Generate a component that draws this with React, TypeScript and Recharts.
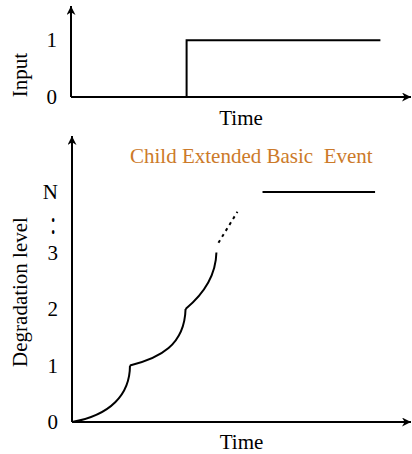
import { LineChart, Line, XAxis, YAxis } from 'recharts'

const TITLE_COLOR = '#cc7a29'

// top panel: step input
const inputSteps = [
  { t: 0, level: 0 },
  { t: 34, level: 0 },
  { t: 34, level: 1 },
  { t: 91, level: 1 },
]
const inputTicks = [0, 1]

// bottom panel: degradation curve, each piece is start, two control points, end
const degradeSeg1 = [
  { t: 0, level: 0 },
  { t: 11.2, level: 0.12 },
  { t: 17.1, level: 0.48 },
  { t: 17.1, level: 1.0 },
]
const degradeSeg2 = [
  { t: 17.1, level: 1.0 },
  { t: 25.9, level: 1.13 },
  { t: 33.2, level: 1.36 },
  { t: 33.5, level: 2.0 },
]
const degradeSeg3 = [
  { t: 33.5, level: 2.0 },
  { t: 37.1, level: 2.18 },
  { t: 42.4, level: 2.51 },
  { t: 42.6, level: 3.0 },
]
const degradeDotted = [
  { t: 43.2, level: 3.17 },
  { t: 48.8, level: 3.72 },
]
const levelN = [
  { t: 56.2, level: 4.07 },
  { t: 89.4, level: 4.07 },
]
const degradeTicks = [0, 1, 2, 3, 3.5, 4.07]
const degradeTickLabels = ['0', '1', '2', '3', ':', 'N']

const titleText = 'Child Extended Basic  Event'

const axisStyle = { stroke: '#000', strokeWidth: 2 }
const textStyle = { fontFamily: '"Times New Roman"', fontSize: 21 }

// cubic bezier through start/control/control/end groups
function bezierCurve(context: any) {
  let pts: number[][] = []
  return {
    areaStart() {},
    areaEnd() {},
    lineStart() { pts = [] },
    lineEnd() {
      if (!pts.length) return
      context.moveTo(pts[0][0], pts[0][1])
      for (let i = 1; i + 2 < pts.length; i += 3) {
        context.bezierCurveTo(pts[i][0], pts[i][1], pts[i + 1][0], pts[i + 1][1], pts[i + 2][0], pts[i + 2][1])
      }
    },
    point(x: number, y: number) { pts.push([x, y]) },
  }
}

function LevelTick({ x, y, payload, labels, ticks }: any) {
  const idx = ticks ? ticks.indexOf(payload.value) : -1
  const text = labels && idx >= 0 ? labels[idx] : String(payload.value)
  if (text === ':') {
    return (
      <text transform={`translate(${x - 8},${y}) scale(1,1.6)`} textAnchor="end" dy="0.3em" style={textStyle} fill="#000">
        {text}
      </text>
    )
  }
  return (
    <text x={x - 6} y={y} textAnchor="end" dy="0.35em" style={textStyle} fill="#000">
      {text}
    </text>
  )
}

function YTitle({ viewBox, value, fromBottom }: any) {
  const cx = 20
  const cy = viewBox.y + viewBox.height - fromBottom
  return (
    <text x={cx} y={cy} transform={`rotate(-90, ${cx}, ${cy})`} textAnchor="middle" dy="0.35em" style={textStyle} fill="#000">
      {value}
    </text>
  )
}

function XTitle({ viewBox, value, below }: any) {
  return (
    <text x={viewBox.x + viewBox.width / 2} y={viewBox.y + below} textAnchor="middle" dy="0.35em" style={textStyle} fill="#000">
      {value}
    </text>
  )
}

export default function App() {
  return (
    <div style={{ position: 'absolute', left: 0, top: 0, width: 412, height: 454, background: '#fff', fontFamily: '"Times New Roman"' }}>
      <svg width={0} height={0} style={{ position: 'absolute' }}>
        <defs>
          <marker id="arrowHead" viewBox="0 0 10 10" refX={10} refY={5} markerWidth={10} markerHeight={9} markerUnits="userSpaceOnUse" orient="auto-start-reverse">
            <path d="M0,0 L10,5 L0,10 L3,5 z" fill="#000" />
          </marker>
        </defs>
      </svg>

      <LineChart width={412} height={130} margin={{ top: 6, right: 1, left: 0, bottom: 0 }}>
        <XAxis
          dataKey="t"
          type="number"
          domain={[0, 100]}
          tick={false}
          tickLine={false}
          height={33}
          axisLine={{ ...axisStyle, markerEnd: 'url(#arrowHead)' }}
          label={<XTitle value="Time" below={21} />}
        />
        <YAxis
          type="number"
          domain={[0, 1.6]}
          ticks={inputTicks}
          width={71}
          tickLine={false}
          tick={<LevelTick />}
          axisLine={{ ...axisStyle, markerStart: 'url(#arrowHead)' }}
          label={<YTitle value="Input" fromBottom={22} />}
        />
        <Line data={inputSteps} dataKey="level" type="linear" stroke="#000" strokeWidth={2} dot={false} activeDot={false} isAnimationActive={false} />
      </LineChart>

      <LineChart width={412} height={324} margin={{ top: 6, right: 1, left: 0, bottom: 0 }}>
        <XAxis
          dataKey="t"
          type="number"
          domain={[0, 100]}
          tick={false}
          tickLine={false}
          height={32}
          axisLine={{ ...axisStyle, markerEnd: 'url(#arrowHead)' }}
          label={<XTitle value="Time" below={20} />}
        />
        <YAxis
          type="number"
          domain={[0, 5.06]}
          ticks={degradeTicks}
          width={72}
          tickLine={false}
          tick={<LevelTick ticks={degradeTicks} labels={degradeTickLabels} />}
          axisLine={{ ...axisStyle, markerStart: 'url(#arrowHead)' }}
          label={<YTitle value="Degradation level" fromBottom={130} />}
        />
        <Line data={degradeSeg1} dataKey="level" type={bezierCurve as any} stroke="#000" strokeWidth={2} dot={false} activeDot={false} isAnimationActive={false} />
        <Line data={degradeSeg2} dataKey="level" type={bezierCurve as any} stroke="#000" strokeWidth={2} dot={false} activeDot={false} isAnimationActive={false} />
        <Line data={degradeSeg3} dataKey="level" type={bezierCurve as any} stroke="#000" strokeWidth={2} dot={false} activeDot={false} isAnimationActive={false} />
        <Line data={degradeDotted} dataKey="level" type="linear" stroke="#000" strokeWidth={2} strokeDasharray="3 4" dot={false} activeDot={false} isAnimationActive={false} />
        <Line data={levelN} dataKey="level" type="linear" stroke="#000" strokeWidth={2} dot={false} activeDot={false} isAnimationActive={false} />
        <text x={130} y={33} style={{ ...textStyle, whiteSpace: 'pre' }} fill={TITLE_COLOR}>
          {titleText}
        </text>
      </LineChart>
    </div>
  )
}
